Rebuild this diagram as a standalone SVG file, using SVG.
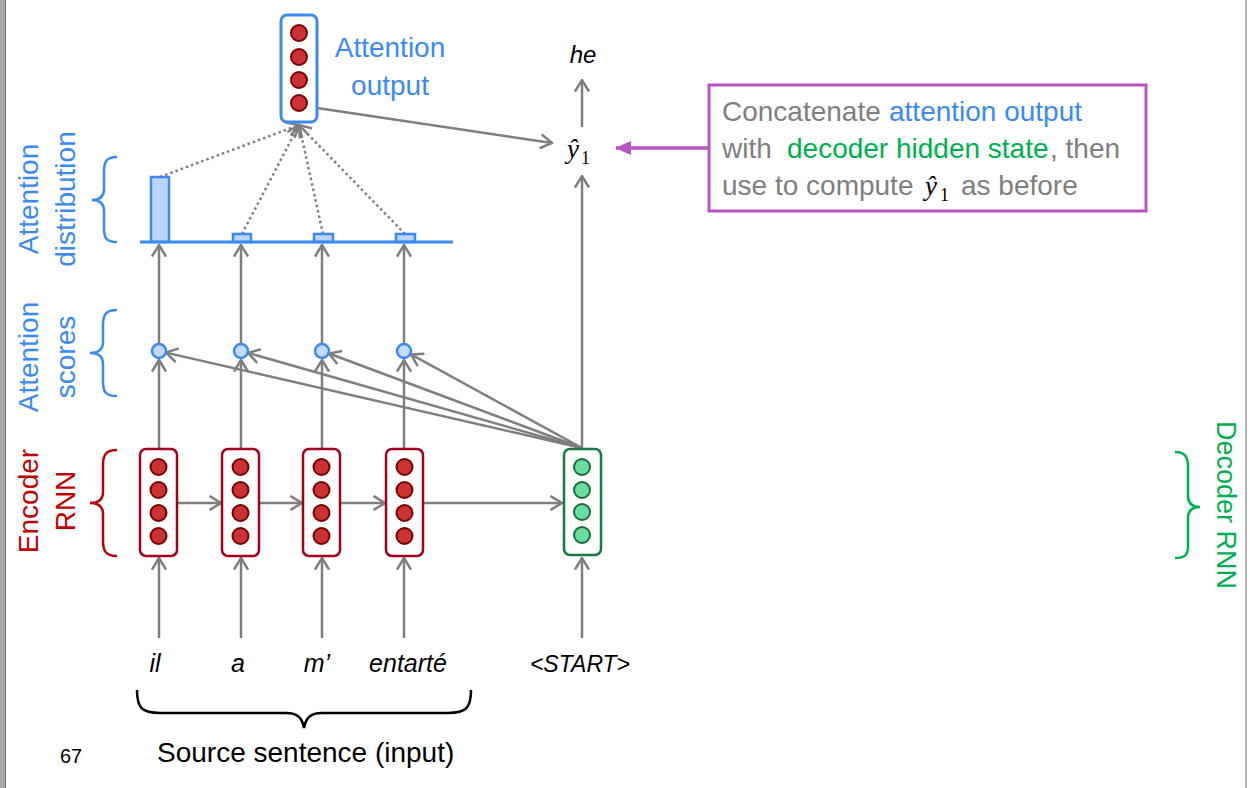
<svg xmlns="http://www.w3.org/2000/svg" width="1250" height="788" viewBox="0 0 1250 788">
<style>
.ln{stroke:#7f7f7f;stroke-width:2.5;fill:none}
.dot{stroke:#7f7f7f;stroke-width:2.5;fill:none;stroke-dasharray:2.5 3}
.enc{fill:#fff;stroke:#a3001e;stroke-width:2.5}
.ec{fill:#cd3232;stroke:#780000;stroke-width:2}
.dec{fill:#fff;stroke:#1b7a43;stroke-width:2.5}
.dc{fill:#68dd9f;stroke:#1a6d3b;stroke-width:2}
.att{fill:#fff;stroke:#3b89f5;stroke-width:3}
.sc{fill:#c3dbff;stroke:#3b89f5;stroke-width:2.5}
.bar{fill:#bcd5fd;stroke:#3b89f5;stroke-width:2.5}
.t{font-family:"Liberation Sans",Arial,sans-serif}
.it{font-family:"Liberation Sans",Arial,sans-serif;font-style:italic;fill:#000}
.math{font-family:"Liberation Serif","Times New Roman",serif;fill:#000}
.blue{fill:#3b89f5}
.red{fill:#c00000}
.green{fill:#00b050}
.gray{fill:#7f7f7f}
.brace{fill:none;stroke-width:2.5}
</style>
<defs>
<marker id="ah" viewBox="0 0 14 16" refX="12.5" refY="8" markerWidth="14" markerHeight="16" markerUnits="userSpaceOnUse" orient="auto">
<path d="M1,1 L12.5,8 L1,15" fill="none" stroke="#7f7f7f" stroke-width="2.5"/>
</marker>
<marker id="mh" viewBox="0 0 16 14" refX="15" refY="7" markerWidth="16" markerHeight="14" markerUnits="userSpaceOnUse" orient="auto">
<path d="M0,0 L16,7 L0,14 z" fill="#b955c2"/>
</marker>
</defs>
<rect width="1250" height="788" fill="#fff"/>
<rect x="0" y="0" width="5" height="788" fill="#a8a8a8"/>
<line x1="5.5" y1="0" x2="5.5" y2="788" stroke="#6e6e6e" stroke-width="1"/>
<line x1="1246" y1="0" x2="1246" y2="788" stroke="#9a9a9a" stroke-width="1.5"/>

<g id="connectors">
<line class="ln" x1="159" y1="638" x2="159" y2="558" marker-end="url(#ah)"/>
<line class="ln" x1="241" y1="638" x2="241" y2="558" marker-end="url(#ah)"/>
<line class="ln" x1="322" y1="638" x2="322" y2="558" marker-end="url(#ah)"/>
<line class="ln" x1="404" y1="638" x2="404" y2="558" marker-end="url(#ah)"/>
<line class="ln" x1="582" y1="638" x2="582" y2="558" marker-end="url(#ah)"/>
<line class="ln" x1="177" y1="503" x2="221" y2="503" marker-end="url(#ah)"/>
<line class="ln" x1="259" y1="503" x2="302" y2="503" marker-end="url(#ah)"/>
<line class="ln" x1="340" y1="503" x2="385" y2="503" marker-end="url(#ah)"/>
<line class="ln" x1="423" y1="503" x2="562" y2="503" marker-end="url(#ah)"/>
<line class="ln" x1="159" y1="448" x2="159" y2="360" marker-end="url(#ah)"/>
<line class="ln" x1="241" y1="448" x2="241" y2="360" marker-end="url(#ah)"/>
<line class="ln" x1="322" y1="448" x2="322" y2="360" marker-end="url(#ah)"/>
<line class="ln" x1="404" y1="448" x2="404" y2="360" marker-end="url(#ah)"/>
<line class="ln" x1="159" y1="343" x2="159" y2="245" marker-end="url(#ah)"/>
<line class="ln" x1="241" y1="343" x2="241" y2="245" marker-end="url(#ah)"/>
<line class="ln" x1="322" y1="343" x2="322" y2="245" marker-end="url(#ah)"/>
<line class="ln" x1="404" y1="343" x2="404" y2="245" marker-end="url(#ah)"/>
<line class="ln" x1="582" y1="448" x2="166" y2="352.6" marker-end="url(#ah)"/>
<line class="ln" x1="582" y1="448" x2="248" y2="352.9" marker-end="url(#ah)"/>
<line class="ln" x1="582" y1="448" x2="329" y2="353.5" marker-end="url(#ah)"/>
<line class="ln" x1="582" y1="448" x2="411" y2="354.4" marker-end="url(#ah)"/>
<line class="ln" x1="582" y1="448" x2="582" y2="176" marker-end="url(#ah)"/>
<line class="ln" x1="582" y1="127" x2="582" y2="80" marker-end="url(#ah)"/>
<line class="ln" x1="317" y1="108" x2="552" y2="143" marker-end="url(#ah)"/>
<line class="dot" x1="160" y1="177" x2="299" y2="125" marker-end="url(#ah)"/>
<line class="dot" x1="242" y1="234" x2="299" y2="125" marker-end="url(#ah)"/>
<line class="dot" x1="323" y1="234" x2="299" y2="125" marker-end="url(#ah)"/>
<line class="dot" x1="405" y1="234" x2="299" y2="125" marker-end="url(#ah)"/>
<line x1="709" y1="148" x2="616" y2="148" stroke="#b955c2" stroke-width="3.5" marker-end="url(#mh)"/>
</g>

<g id="enc1"><rect class="enc" x="140" y="449" width="37" height="107" rx="6"/><circle class="ec" cx="158.5" cy="467" r="8"/><circle class="ec" cx="158.5" cy="490" r="8"/><circle class="ec" cx="158.5" cy="513" r="8"/><circle class="ec" cx="158.5" cy="536" r="8"/></g>
<g id="enc2"><rect class="enc" x="222" y="449" width="37" height="107" rx="6"/><circle class="ec" cx="240.5" cy="467" r="8"/><circle class="ec" cx="240.5" cy="490" r="8"/><circle class="ec" cx="240.5" cy="513" r="8"/><circle class="ec" cx="240.5" cy="536" r="8"/></g>
<g id="enc3"><rect class="enc" x="303" y="449" width="37" height="107" rx="6"/><circle class="ec" cx="321.5" cy="467" r="8"/><circle class="ec" cx="321.5" cy="490" r="8"/><circle class="ec" cx="321.5" cy="513" r="8"/><circle class="ec" cx="321.5" cy="536" r="8"/></g>
<g id="enc4"><rect class="enc" x="386" y="449" width="37" height="107" rx="6"/><circle class="ec" cx="404.5" cy="467" r="8"/><circle class="ec" cx="404.5" cy="490" r="8"/><circle class="ec" cx="404.5" cy="513" r="8"/><circle class="ec" cx="404.5" cy="536" r="8"/></g>
<g id="dec1"><rect class="dec" x="564" y="449" width="37" height="106" rx="6"/><circle class="dc" cx="582" cy="467" r="8"/><circle class="dc" cx="582" cy="490" r="8"/><circle class="dc" cx="582" cy="512" r="8"/><circle class="dc" cx="582" cy="535" r="8"/></g>
<g id="attout"><rect class="att" x="281" y="15" width="36" height="107" rx="6"/><circle class="ec" cx="299" cy="33" r="8"/><circle class="ec" cx="299" cy="57" r="8"/><circle class="ec" cx="299" cy="80" r="8"/><circle class="ec" cx="299" cy="103" r="8"/>
<text class="t blue" font-size="28" text-anchor="middle" x="390" y="57">Attention</text>
<text class="t blue" font-size="28" text-anchor="middle" x="390" y="95">output</text></g>

<g id="scores"><circle class="sc" cx="159" cy="351" r="7"/><circle class="sc" cx="241" cy="351" r="7"/><circle class="sc" cx="322" cy="351" r="7"/><circle class="sc" cx="404" cy="351" r="7"/></g>
<g id="distribution">
<rect class="bar" x="151" y="177" width="18" height="65"/>
<rect class="bar" x="233" y="234" width="18" height="8"/>
<rect class="bar" x="314" y="234" width="19" height="8"/>
<rect class="bar" x="396" y="234" width="19" height="8"/>
<line x1="140" y1="242" x2="453" y2="242" stroke="#3b89f5" stroke-width="3"/>
</g>

<g id="yhat"><text class="math" x="567" y="158" font-size="27" font-style="italic">ŷ</text><text class="math" x="581" y="164" font-size="18">1</text></g>
<g id="he"><text class="it" x="583" y="63" font-size="24" text-anchor="middle">he</text></g>

<g id="note">
<rect x="709" y="85" width="437" height="126" fill="#fff" stroke="#b955c2" stroke-width="3"/>
<text class="t gray" font-size="28" x="722" y="121">Concatenate <tspan class="blue" x="889">attention output</tspan></text>
<text class="t gray" font-size="28" x="722" y="158">with <tspan class="green" x="787">decoder hidden state</tspan><tspan x="1050">, then</tspan></text>
<text class="t gray" font-size="28" x="722" y="195">use to compute</text>
<text class="math" font-size="27" font-style="italic" x="925" y="195">ŷ</text><text class="math" font-size="18" x="940" y="201">1</text>
<text class="t gray" font-size="28" x="961" y="195">as before</text>
</g>

<g id="labels-left">
<text class="t blue" font-size="28" text-anchor="middle" transform="translate(38,199) rotate(-90)">Attention</text>
<text class="t blue" font-size="28" text-anchor="middle" transform="translate(75,199) rotate(-90)">distribution</text>
<path class="brace" stroke="#3b89f5" d="M117,157 C106,157 104,162 104,172 L104,189 C104,196 100,200 92,200 C100,200 104,204 104,211 L104,228 C104,238 106,242 117,242"/>
<text class="t blue" font-size="28" text-anchor="middle" transform="translate(38,357) rotate(-90)">Attention</text>
<text class="t blue" font-size="28" text-anchor="middle" transform="translate(75,357) rotate(-90)">scores</text>
<path class="brace" stroke="#3b89f5" d="M117,310 C106,310 103,315 103,325 L103,342 C103,349 99,353 90,353 C99,353 103,357 103,364 L103,382 C103,392 106,396 117,396"/>
<text class="t red" font-size="28" text-anchor="middle" transform="translate(38,501) rotate(-90)">Encoder</text>
<text class="t red" font-size="28" text-anchor="middle" transform="translate(75,501) rotate(-90)">RNN</text>
<path class="brace" stroke="#c00000" d="M117,450 C106,450 103,455 103,465 L103,492 C103,499 99,503 90,503 C99,503 103,507 103,514 L103,541 C103,551 106,556 117,556"/>
</g>

<g id="labels-right">
<path class="brace" stroke="#00b050" d="M1175,452 C1185,452 1188,457 1188,467 L1188,496 C1188,503 1192,507 1200,507 C1192,507 1188,511 1188,518 L1188,546 C1188,555 1185,558 1175,558"/>
<text class="t green" font-size="27" text-anchor="middle" transform="translate(1217,505) rotate(90)">Decoder RNN</text>
</g>

<g id="inputs">
<text class="it" font-size="25" text-anchor="middle" x="155" y="672">il</text>
<text class="it" font-size="25" text-anchor="middle" x="238" y="672">a</text>
<text class="it" font-size="25" text-anchor="middle" x="317" y="672">m’</text>
<text class="it" font-size="25" text-anchor="middle" x="408" y="672">entarté</text>
<text class="it" font-size="23" text-anchor="middle" x="580" y="672">&lt;START&gt;</text>
<path class="brace" stroke="#000" d="M137,690 C137,708 142,713 160,713 L286,713 C298,713 302,718 304,728 C306,718 310,713 322,713 L448,713 C466,713 471,708 471,690"/>
<text class="t" font-size="28" x="157" y="762" fill="#000">Source sentence (input)</text>
<text class="t" font-size="20" x="60" y="763" fill="#000">67</text>
</g>
</svg>
